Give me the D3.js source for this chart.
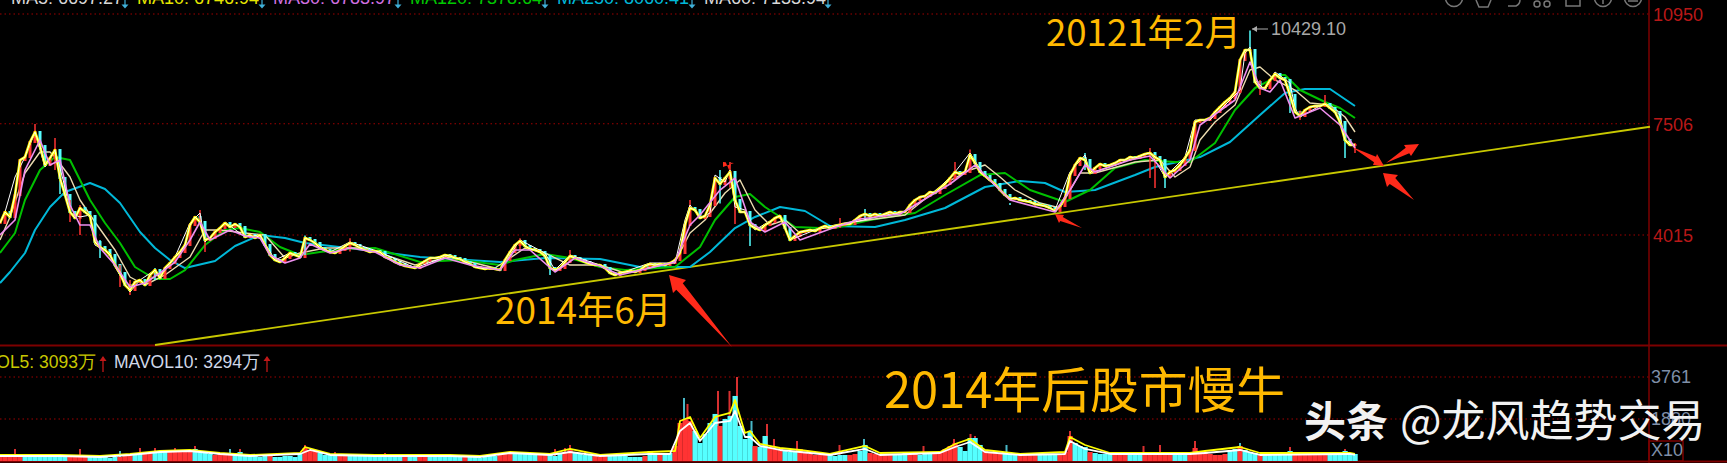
<!DOCTYPE html>
<html><head><meta charset="utf-8">
<script src="https://cdnjs.cloudflare.com/ajax/libs/d3/7.8.5/d3.min.js"></script>
<style>html,body{margin:0;padding:0;background:#000;overflow:hidden}svg{display:block}text{font-family:"Liberation Sans",sans-serif}</style>
</head><body><div id="c"></div>
<script>
const priceTicks=[10950,7506,4015];
const volTicks=["3761","1880"];
const closeValues=[4391,4736,4580,5270,6368,6462,6933,7247,6807,6211,6431,6682,5803,5270,4736,4548,4862,4736,4611,3795,3638,3544,3387,3073,2822,2446,2289,2540,2603,2446,2760,2916,2665,2979,3136,3324,3481,3701,4328,4580,4423,3858,3921,4109,4234,4391,4266,4360,4266,3952,4015,3921,4015,3701,3387,3230,3167,3293,3450,3387,3324,3921,3858,3764,3607,3544,3481,3450,3544,3669,3764,3701,3607,3544,3481,3513,3481,3324,3262,3167,3105,3042,3011,2979,3105,3199,3293,3293,3324,3387,3356,3293,3262,3167,3105,3011,2979,2948,2979,2948,2916,3230,3481,3701,3827,3669,3575,3544,3481,3356,2979,2916,2979,3167,3356,3293,3230,3167,3105,3073,3073,2979,2822,2760,2822,2854,2885,2854,2916,3042,3105,3073,3105,3073,3136,3230,3450,4328,4862,4799,4548,4611,4956,5803,5615,5803,5992,5113,4736,4736,4328,4234,4172,4328,4423,4548,4611,4234,3858,3983,4109,4140,4172,4140,4234,4297,4234,4297,4328,4360,4360,4485,4611,4674,4611,4674,4611,4674,4736,4674,4736,4736,4956,5113,5207,5238,5364,5333,5490,5615,5803,5992,5930,5992,6525,6274,5992,5866,5741,5615,5427,5270,5144,5176,5113,5082,5050,4987,4956,4925,4862,4768,4925,5176,5897,6211,6431,6368,5960,6117,6243,6180,6211,6274,6368,6368,6462,6431,6494,6556,6588,6462,6368,5835,5992,6054,6211,6431,6682,7561,7623,7623,7686,7875,8032,8188,8314,8502,9506,9820,9820,8816,8628,8628,8879,9067,8941,8879,8408,7875,7749,7937,8032,8063,8063,8126,8000,7875,7561,6996,6839,6839];
const wickIdx=[7,11,12,14,16,20,24,26,31,40,41,61,70,104,110,114,138,144,146,147,150,159,168,173,191,194,202,207,211,217,230,231,233,250,252,258,260,265,269,271];
const wickHigh=[7498,7059,6054,5113,4956,3858,3075,2603,2979,4799,3858,3999,3915,3915,3168,3544,5113,6054,6305,5113,4485,3795,4547,4830,6305,6700,5019,4987,4673,6588,6745,6525,6054,10429,8879,8565,7923,8408,6996,6902];
const wickLow=[7150,6054,5300,4420,4015,3294,2383,2132,2600,4360,3481,3389,3500,3544,2760,3160,4548,5000,5500,4360,3669,3795,4234,4485,5741,6054,4956,4893,4673,6054,5803,5490,5490,9820,8408,7843,7624,8126,6431,6587];
const ma5Idx=[0,1,3,5,7,8,9,11,13,14,16,18,19,22,23,26,28,31,32,35,38,40,41,45,49,52,55,58,60,61,66,70,76,83,90,96,100,104,109,111,114,120,123,130,135,137,138,140,142,143,145,146,147,149,151,156,158,163,170,177,181,187,191,194,197,202,207,211,214,217,218,223,230,233,237,239,242,248,249,250,251,253,255,258,259,260,265,268,269,271];
const ma5Values=[4391,4736,5835,6462,7247,6682,6149,6682,5521,4705,4580,4642,3701,3450,3011,2226,2603,2916,2697,3324,4391,4705,3795,4423,3952,4015,3230,3450,3324,3952,3481,3795,3481,2979,3387,2979,2916,3858,3450,2916,3387,3073,2760,3136,3136,4485,4956,4548,4705,5897,5678,6054,4893,4799,4172,4642,3858,4172,4391,4642,4736,5364,5992,6588,5835,5176,5019,4799,5992,6525,5960,6211,6619,5835,6462,7623,7623,8565,9726,9914,8879,8565,9130,8785,7999,7718,8157,7780,6996,6839];
const ma30Idx=[0,3,5,8,10,12,14,16,18,20,23,26,29,32,35,38,40,42,46,49,52,54,57,60,62,66,70,75,80,84,89,94,100,103,106,111,115,120,124,130,135,138,140,144,147,150,153,157,160,166,172,180,184,190,195,198,202,211,214,217,219,226,230,234,238,240,247,250,252,254,256,259,264,268,271];
const ma30Values=[4015,4485,6054,6996,6211,6368,4956,4328,4328,3607,3073,2383,2509,2822,3167,3858,4423,3858,4172,3983,3921,3387,3136,3293,3732,3450,3607,3481,3073,2979,3293,3073,2916,3544,3544,2854,3293,3042,2760,2979,3167,4328,4642,5427,5803,4423,4109,4423,3858,4203,4517,4674,5050,5615,6211,5741,5113,4736,5427,6211,5992,6368,6494,5803,6368,7467,8251,9443,8628,8502,8879,7686,8000,7467,6745];
const ma60Idx=[0,2,5,8,10,11,14,16,19,23,26,29,33,38,41,44,49,53,57,60,65,73,83,90,99,105,109,114,120,125,135,138,141,145,148,151,154,157,160,169,181,189,194,197,200,203,208,212,216,219,227,232,235,238,240,243,247,250,252,255,259,262,266,269,271];
const ma60Values=[3858,4580,5960,6619,6619,6462,5835,5113,4423,3544,2697,2446,2760,3324,4172,4172,4077,4015,3293,3450,3607,3607,3073,3324,2979,3607,3450,3073,3073,2822,3167,4077,4485,5333,5741,4799,4328,4485,4077,4391,4642,5646,6054,6211,5835,5427,5019,4862,5960,5960,6305,6368,5835,6149,6996,7561,8094,9192,9286,8879,8565,8157,8094,7718,7247];
const ma120Idx=[0,3,5,8,11,14,16,18,21,24,27,31,34,37,41,45,48,52,56,60,64,69,75,84,92,100,103,109,114,120,125,135,140,143,147,150,153,157,159,164,167,174,183,189,196,201,206,213,218,223,229,235,238,243,247,251,256,257,260,265,268,271];
const ma120Values=[3450,4078,5113,6054,6462,6368,5741,5113,4391,3764,3011,2634,2634,2916,3701,4172,4234,4109,3638,3387,3481,3575,3607,3167,3230,3073,3230,3419,3293,3011,2916,3011,3638,4485,5207,5301,4893,4485,4266,4234,4234,4485,4705,5270,5897,5960,5427,5050,5427,6117,6368,6305,6305,6902,7937,8628,9035,9035,8565,8188,8000,7686];
const ma250Idx=[0,2,5,7,10,13,18,21,24,28,31,34,37,43,47,52,57,61,73,84,100,109,120,128,138,142,147,151,156,161,166,175,181,189,197,204,209,213,219,227,231,240,246,252,257,261,266,271];
const ma250Values=[2508,2854,3450,4172,4893,5364,5646,5458,5019,4109,3607,3230,2979,3199,3669,4015,3921,3764,3544,3324,3167,3293,3262,3011,3011,3481,4234,4580,4893,4768,4297,4266,4485,4862,5521,5709,5646,5364,5427,5897,6149,6462,6933,7780,8471,8596,8596,8063];
const trendIdx=[31,330];
const trendValues=[563,7412];
const volValues=[179,224,269,224,269,314,269,224,224,179,
224,224,269,269,224,224,179,224,179,179,
179,179,134,179,179,269,314,269,314,358,
358,448,403,403,448,493,448,448,493,538,
448,358,314,269,314,358,314,358,403,269,
224,224,179,224,224,179,179,224,224,179,
358,582,493,493,358,269,269,269,269,269,
224,269,224,269,269,224,224,224,224,224,
179,179,224,224,179,224,224,224,269,224,
224,179,179,224,179,179,134,179,224,224,
269,314,358,358,358,314,358,314,314,358,
269,224,314,358,538,358,314,269,269,269,
179,224,269,224,224,224,179,179,179,224,
448,314,269,314,358,672,1702,1882,1792,1344,
806,1210,1702,2106,1568,1882,2016,2912,1568,986,
1344,672,627,1120,627,538,538,448,403,448,
538,358,314,269,269,314,269,224,269,269,
269,314,448,717,358,314,269,314,314,269,
314,358,314,358,269,314,358,358,403,538,
672,806,627,448,1030,1030,717,448,358,358,
314,358,314,314,269,314,269,314,314,269,
314,269,314,403,1120,806,672,627,403,358,
314,314,314,358,314,269,314,314,358,269,
314,314,269,358,314,269,269,314,403,582,
448,358,314,269,269,314,448,538,672,493,
403,358,314,269,269,269,269,314,448,358,
358,314,269,269,269,269,314,314,358,448,358,314];
const spikeIdx=[3,16,24,28,31,35,39,46,48,61,67,77,101,111,113,114,117,136.8,137.5,143.6,145.9,147.4,150.3,153.4,154.8,159.4,167.9,172.8,184.7,190.8,194.1,195,201.3,214,228.7,232,239,248,258,269];
const spikeValues=[538,538,448,582,582,582,672,538,538,717,403,358,403,538,582,717,448,2822,2554,3136,3136,3761,1792,1658,986,896,717,986,672,986,1210,1120,717,1344,672,717,896,806,627,538];
const downRanges=[[5,8],[9,13],[18,23],[27,28],[31,33],[39,42],[47,49],[50,53],[55,60],[64,67],[70,77],[78,80],[82,83],[86,92],[94,99],[103,107],[110,112],[115,118],[122,125],[126,128],[130,131],[133,134],[139,143],[145,150],[152,153],[157,159],[166,169],[172,173],[179,181],[184,186],[192,193],[194,196],[201,203],[208,211],[215,217],[219,222],[226,228],[235,237],[246,247],[249,251],[253,255],[256,258],[266,271]];
const mavol5Idx=[0,6,12,20,26,32,38,44,50,60,61,66,75,90,96,102,110,114,120,130,135,136,138,140,143,146,147,149,150,152,156,160,166,173,176,188,191,194,197,204,213,214,217,222,238,241,248,252,270,271];
const mavol5Values=[269,269,269,224,314,448,493,358,269,358,627,314,269,269,224,403,314,538,269,403,448,1792,1971,1030,1971,2150,2732,1254,1344,762,582,493,314,672,358,403,762,986,493,314,403,1075,717,358,358,448,627,358,358,314];
const mavol10Idx=[0,6,12,20,26,32,38,44,50,60,62,66,75,90,96,102,110,114,120,130,134,136,138,140,143,146,147,149,150,152,156,160,166,173,176,188,191,194,197,204,213,214,217,222,238,241,248,252,270,271];
const mavol10Values=[224,224,224,179,269,403,448,314,224,314,493,269,224,224,179,358,269,403,224,314,314,1344,1702,896,1702,1792,2240,1075,1075,672,493,403,269,538,269,358,627,851,403,269,314,896,538,314,314,358,493,269,314,269];
const legend=[["MA5: 6697.27",11,125,"#d8d8d8"],["MA10: 6746.94",137,262,"#e6e600"],["MA30: 6783.97",273,398,"#d070e0"],["MA120: 7378.64",410,545,"#00c800"],["MA250: 8060.41",557,692,"#00b8d8"],["MA60: 7133.94",704,828,"#d8d8d8"]];
const arrows=[[[669,275],[732,347],[673,293],[686,280]],[[1055,214],[1082,228],[1059,223],[1064,215]],[[1384,166],[1352,147],[1377,154],[1373,165]],[[1419,144],[1386,163],[1404,145],[1411,156]],[[1383,173],[1414,200],[1387,187],[1398,175]],[[723,167],[729,170],[723,162],[734,163]]];

const W=1727,H=463,AX=1649;
const svg=d3.select("#c").append("svg").attr("width",W).attr("height",H).style("background","#000");
const x=d3.scaleLinear().domain([0,330]).range([0,1650]);
const y=d3.scaleLinear().domain([4015,10950]).range([235,14]);
const v=d3.scaleLinear().domain([0,3761]).range([461,377]);
const DR="#7d0000";
svg.selectAll(".g").data(priceTicks).join("line").attr("x1",0).attr("x2",AX).attr("y1",d=>y(d)).attr("y2",d=>y(d)).attr("stroke","#a00000").attr("stroke-dasharray","1.5 3");
svg.selectAll(".gv").data(volTicks).join("line").attr("x1",0).attr("x2",AX).attr("y1",d=>v(+d)).attr("y2",d=>v(+d)).attr("stroke","#a00000").attr("stroke-dasharray","1.5 3");
[[0,345.5,W,345.5],[0,461.5,W,461.5]].forEach(l=>svg.append("line").attr("x1",l[0]).attr("y1",l[1]).attr("x2",l[2]).attr("y2",l[3]).attr("stroke",DR).attr("stroke-width",2));
svg.append("line").attr("x1",AX).attr("x2",AX).attr("y1",0).attr("y2",H).attr("stroke",DR).attr("stroke-width",1.5);
svg.append("rect").attr("x",AX).attr("y",441).attr("width",34).attr("height",20).attr("fill","none").attr("stroke",DR).attr("stroke-width",1.5);
const up=i=>i===0||closeValues[i]>=closeValues[i-1];
const RED="#ff3333",CY="#55ffff";
const isDown=i=>downRanges.some(r=>i>=r[0]&&i<=r[1]);
svg.append("g").selectAll("rect").data(spikeIdx).join("rect")
 .attr("x",d=>x(d)-1).attr("width",2).attr("y",(d,i)=>v(spikeValues[i])).attr("height",(d,i)=>461-v(spikeValues[i])).attr("fill",(d,i)=>(d===136.8||i%5===2)?"#48b8c8":"#d83030");
svg.append("g").selectAll("rect").data(volValues).join("rect")
 .attr("x",(d,i)=>x(i)-2.5).attr("width",5.2).attr("y",d=>v(d)).attr("height",d=>461-v(d)).attr("fill",(d,i)=>isDown(i)?CY:RED);
const ln=(xs,ys,sc)=>d3.line().x((d,i)=>x(xs[i])).y(d=>sc(d))(ys);
function drawLine(xs,ys,sc,c,w){svg.append("path").attr("d",ln(xs,ys,sc)).attr("fill","none").attr("stroke",c).attr("stroke-width",w).attr("stroke-linejoin","round");}
drawLine(mavol5Idx,mavol5Values,v,"#ffff00",1.8);
drawLine(mavol10Idx,mavol10Values,v,"#ffffff",1.8);
drawLine(trendIdx,trendValues,y,"#c8c800",1.8);
drawLine(ma250Idx,ma250Values,y,"#00b8d8",2);
drawLine(ma120Idx,ma120Values,y,"#00c000",2);
drawLine(ma60Idx,ma60Values,y,"#ecdcb0",1.4);
const cg=svg.append("g");
cg.selectAll("rect").data(closeValues).join("rect")
 .attr("x",(d,i)=>x(i)-1.5).attr("width",3)
 .attr("y",(d,i)=>y(Math.max(d,closeValues[Math.max(i-1,0)]))-1)
 .attr("height",(d,i)=>Math.abs(y(d)-y(closeValues[Math.max(i-1,0)]))+2)
 .attr("fill",(d,i)=>up(i)?RED:CY);
cg.selectAll("line").data(wickIdx).join("line")
 .attr("x1",d=>x(d)).attr("x2",d=>x(d))
 .attr("y1",(d,i)=>y(wickHigh[i])).attr("y2",(d,i)=>y(wickLow[i]))
 .attr("stroke",(d,i)=>i%3===2||d===250?"#55ffff":"#ff3333").attr("stroke-width",1.5);
drawLine(ma5Idx,ma5Values,y,"#ffffff",1);
drawLine(d3.range(closeValues.length),closeValues,y,"#ffff00",2.6);
drawLine(d3.range(closeValues.length),closeValues,y,"#ffffff",0.9);
drawLine(ma30Idx,ma30Values,y,"#f090f0",1.6);
svg.append("g").selectAll("path").data(arrows).join("path").attr("fill","#ff2a1a").attr("d",a=>{
 const [t,b,p,q]=a;const m=[(p[0]+q[0])/2,(p[1]+q[1])/2];
 const n1=[(p[0]+m[0])/2,(p[1]+m[1])/2],n2=[(q[0]+m[0])/2,(q[1]+m[1])/2];
 return "M"+[b,n1,p,t,q,n2].map(c=>c.join(",")).join("L")+"Z";});
svg.append("line").attr("x1",x(250)+2).attr("x2",1268).attr("y1",29).attr("y2",29).attr("stroke","#aaa");
svg.append("path").attr("d","M1252,29l5,-3v6z").attr("fill","#aaa");
svg.append("text").attr("x",1271).attr("y",35).attr("font-size",18).attr("fill","#a8a8a8").text("10429.10");
svg.selectAll(".pl").data(priceTicks).join("text").attr("x",1653).attr("y",d=>y(d)+7).attr("font-size",18).attr("fill","#b81818").text(d=>d);
svg.append("text").attr("x",1651).attr("y",v(3761)+6).attr("font-size",18).attr("fill","#7f8fa8").text(volTicks[0]);
svg.append("text").attr("x",1651).attr("y",v(1880)+6).attr("font-size",18).attr("fill","#7f8fa8").text(volTicks[1]);
svg.append("text").attr("x",1651).attr("y",456).attr("font-size",18).attr("fill","#7f8fa8").text("X10");
legend.forEach(l=>{
 svg.append("text").attr("x",l[1]).attr("y",4).attr("font-size",18).attr("fill",l[3]).text(l[0]);
 svg.append("line").attr("x1",l[2]).attr("x2",l[2]).attr("y1",-1).attr("y2",5).attr("stroke","#3fb0d8").attr("stroke-width",1.2);
 svg.append("path").attr("d",`M${l[2]-3.5},4.5h7l-3.5,4z`).attr("fill","#3fb0d8");
});
svg.append("text").attr("x",96).attr("y",368).attr("text-anchor","end").attr("font-size",17.5).attr("fill","#c8c800").text("MAVOL5: 3093万");
svg.append("text").attr("x",114).attr("y",368).attr("font-size",17.5).attr("fill","#d0d8e8").text("MAVOL10: 3294万");
[103,267].forEach(a=>{svg.append("line").attr("x1",a).attr("x2",a).attr("y1",357).attr("y2",372).attr("stroke","#c01818").attr("stroke-width",1.3);
 svg.append("path").attr("d",`M${a-3.5},361l3.5,-5l3.5,5z`).attr("fill","#c01818");});
const tb=svg.append("g").attr("fill","none").attr("stroke","#777").attr("stroke-width",1.5);
[1454,1603,1633].forEach(c=>tb.append("circle").attr("cx",c).attr("cy",-2).attr("r",8.5));
tb.append("path").attr("d","M1476,0l3,7h9l3,-7");
tb.append("path").attr("d","M1508,6h8q4,-2 4,-6");
tb.append("circle").attr("cx",1537).attr("cy",4).attr("r",3);tb.append("circle").attr("cx",1547).attr("cy",4).attr("r",3);
tb.append("path").attr("d","M1566,0v6h14v-6");
tb.append("line").attr("x1",1603).attr("x2",1603).attr("y1",0).attr("y2",4);
tb.append("line").attr("x1",1628).attr("x2",1638).attr("y1",1).attr("y2",1);
const cjk='"Noto Sans CJK SC",sans-serif',OR="#ffb900";
const ann=[["20121年2月",1046,46,36.6],["2014年6月",495,324,37],["2014年后股市慢牛",884,408,48.8]];
ann.forEach(a=>svg.append("text").attr("x",a[1]).attr("y",a[2]).attr("font-size",a[3]).attr("fill",OR).style("font-family",cjk).text(a[0]));
svg.append("text").attr("x",1304).attr("y",437).attr("font-size",42).attr("font-weight",700).attr("fill","#f2f2f2").style("font-family",cjk).text("头条");
svg.append("text").attr("x",1400).attr("y",437).attr("font-size",44).attr("fill","#f2f2f2").style("font-family",cjk).text("@龙风趋势交易");
</script></body></html>
